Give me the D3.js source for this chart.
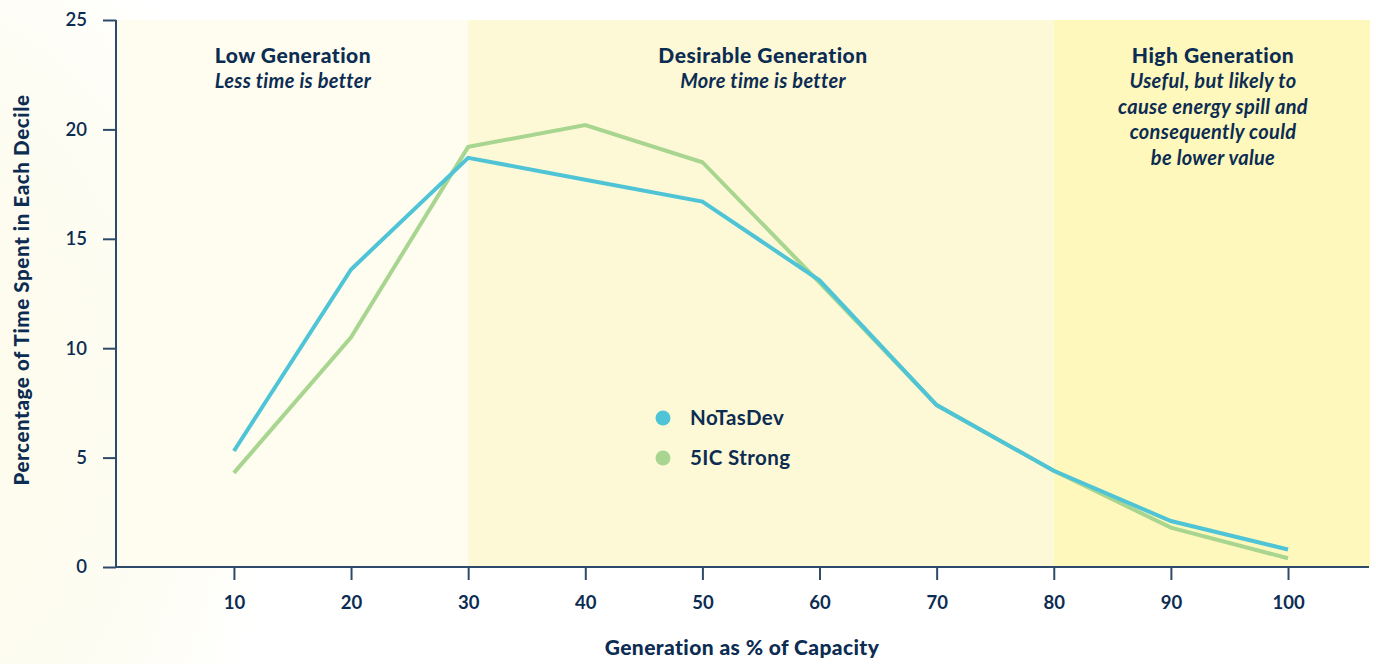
<!DOCTYPE html>
<html><head><meta charset="utf-8">
<script src="https://cdn.jsdelivr.net/npm/d3@7"></script>
<style>
html,body{margin:0;padding:0;background:#fff;}
svg{display:block;font-family:Lato,"Open Sans",sans-serif;}
</style></head>
<body><svg id="chart" width="1376" height="664"></svg>
<script>
const deciles = [10,20,30,40,50,60,70,80,90,100];
const noTasDev = [5.3,13.6,18.7,17.7,16.7,13.1,7.4,4.4,2.1,0.8];
const fiveICStrong = [4.3,10.5,19.2,20.2,18.5,13.0,7.4,4.4,1.8,0.4];
const seriesNames = ["NoTasDev","5IC Strong"];
const seriesColors = ["#4ec4d6","#a8d590"];
const yTicks = [0,5,10,15,20,25];
const zones = [
  {from:0,to:30,fill:"#fefdf0",title:"Low Generation",sub:["Less time is better"]},
  {from:30,to:80,fill:"#fdf9d6",title:"Desirable Generation",sub:["More time is better"]},
  {from:80,to:107,fill:"#fef8bc",title:"High Generation",sub:["Useful, but likely to","cause energy spill and","consequently could","be lower value"]}
];
const navy = "#0c2c52";
const axisCol = "#2e4a6a";

const svg = d3.select("#chart");
const x = d3.scaleLinear().domain([0,107]).range([116.8,1370]);
const y = d3.scaleLinear().domain([0,25]).range([567,20]);

// faint page gradient on the left
const defs = svg.append("defs");
const rg = defs.append("radialGradient").attr("id","bg")
  .attr("gradientUnits","userSpaceOnUse").attr("cx",-60).attr("cy",420).attr("r",340)
  .attr("gradientTransform","translate(-60,420) scale(1,1.6) translate(60,-420)");
rg.append("stop").attr("offset","0").attr("stop-color","#fdfbea");
rg.append("stop").attr("offset","0.7").attr("stop-color","#fefdf4");
rg.append("stop").attr("offset","1").attr("stop-color","#ffffff");
svg.append("rect").attr("width",1376).attr("height",664).attr("fill","#fff");
svg.append("rect").attr("width",1376).attr("height",664).attr("fill","url(#bg)");

// zones
svg.selectAll("rect.zone").data(zones).enter().append("rect").attr("class","zone")
  .attr("x",d=>x(d.from)).attr("y",y(25))
  .attr("width",d=>x(d.to)-x(d.from)).attr("height",y(0)-y(25))
  .attr("fill",d=>d.fill);

// zone labels
zones.forEach((z,i)=>{
  const cx = i===0 ? 293 : (i===1 ? 763 : 1213);
  const g = svg.append("g");
  g.append("text").attr("x",cx).attr("y",63).attr("text-anchor","middle")
    .attr("fill",navy).attr("font-size",21).attr("font-weight",900)
    .attr("letter-spacing",0.5).text(z.title);
  z.sub.forEach((s,j)=>{
    g.append("text").attr("x",cx).attr("y",88+j*25.5).attr("text-anchor","middle")
      .attr("fill",navy).attr("font-size",20).attr("font-style","italic").attr("font-weight",700)
      .attr("letter-spacing",0.3).text(s);
  });
});

// axes
const yAxis = d3.axisLeft(y).tickValues(yTicks).tickSize(13).tickPadding(16);
const gy = svg.append("g").attr("transform",`translate(${x(0)-0.8},0)`).call(yAxis);
gy.select(".domain").remove();
gy.append("line").attr("x1",0).attr("x2",0).attr("y1",y(25)).attr("y2",y(0)).attr("stroke",axisCol).attr("stroke-width",2);
gy.selectAll(".tick line").attr("stroke",axisCol).attr("stroke-width",2);
gy.selectAll(".tick text").attr("fill",navy).attr("font-size",18.5).attr("font-weight",600).attr("font-family","Lato,sans-serif");

const xAxis = d3.axisBottom(x).tickValues(deciles).tickSize(13).tickPadding(16);
const gx = svg.append("g").attr("transform",`translate(0,${y(0)})`).call(xAxis);
gx.select(".domain").remove();
gx.append("line").attr("x1",x(0)-1.8).attr("x2",1369).attr("y1",0).attr("y2",0).attr("stroke",axisCol).attr("stroke-width",2);
gx.selectAll(".tick line").attr("stroke",axisCol).attr("stroke-width",2);
gx.selectAll(".tick text").attr("fill",navy).attr("font-size",18.5).attr("font-weight",700).attr("font-family","Lato,sans-serif");

// axis titles
svg.append("text").attr("x",742).attr("y",655).attr("text-anchor","middle")
  .attr("fill",navy).attr("font-size",21).attr("font-weight",900).attr("letter-spacing",0.4)
  .text("Generation as % of Capacity");
svg.append("text").attr("transform","translate(29,290) rotate(-90)").attr("text-anchor","middle")
  .attr("fill",navy).attr("font-size",20.5).attr("font-weight",900).attr("letter-spacing",0.6)
  .text("Percentage of Time Spent in Each Decile");

// lines
const line = d3.line().x((d,i)=>x(deciles[i])).y(d=>y(d));
const allSeries = [noTasDev,fiveICStrong];
[1,0].forEach(idx=>{
  svg.append("path").datum(allSeries[idx]).attr("d",line)
    .attr("fill","none").attr("stroke",seriesColors[idx]).attr("stroke-width",4);
});

// legend
seriesNames.forEach((n,i)=>{
  const ly = 418 + i*40;
  svg.append("circle").attr("cx",663).attr("cy",ly).attr("r",7.5).attr("fill",seriesColors[i]);
  svg.append("text").attr("x",690).attr("y",ly+7).attr("fill",navy).attr("font-size",20.5)
    .attr("font-weight",700).attr("letter-spacing",0.4).text(n);
});
</script>
</body></html>
